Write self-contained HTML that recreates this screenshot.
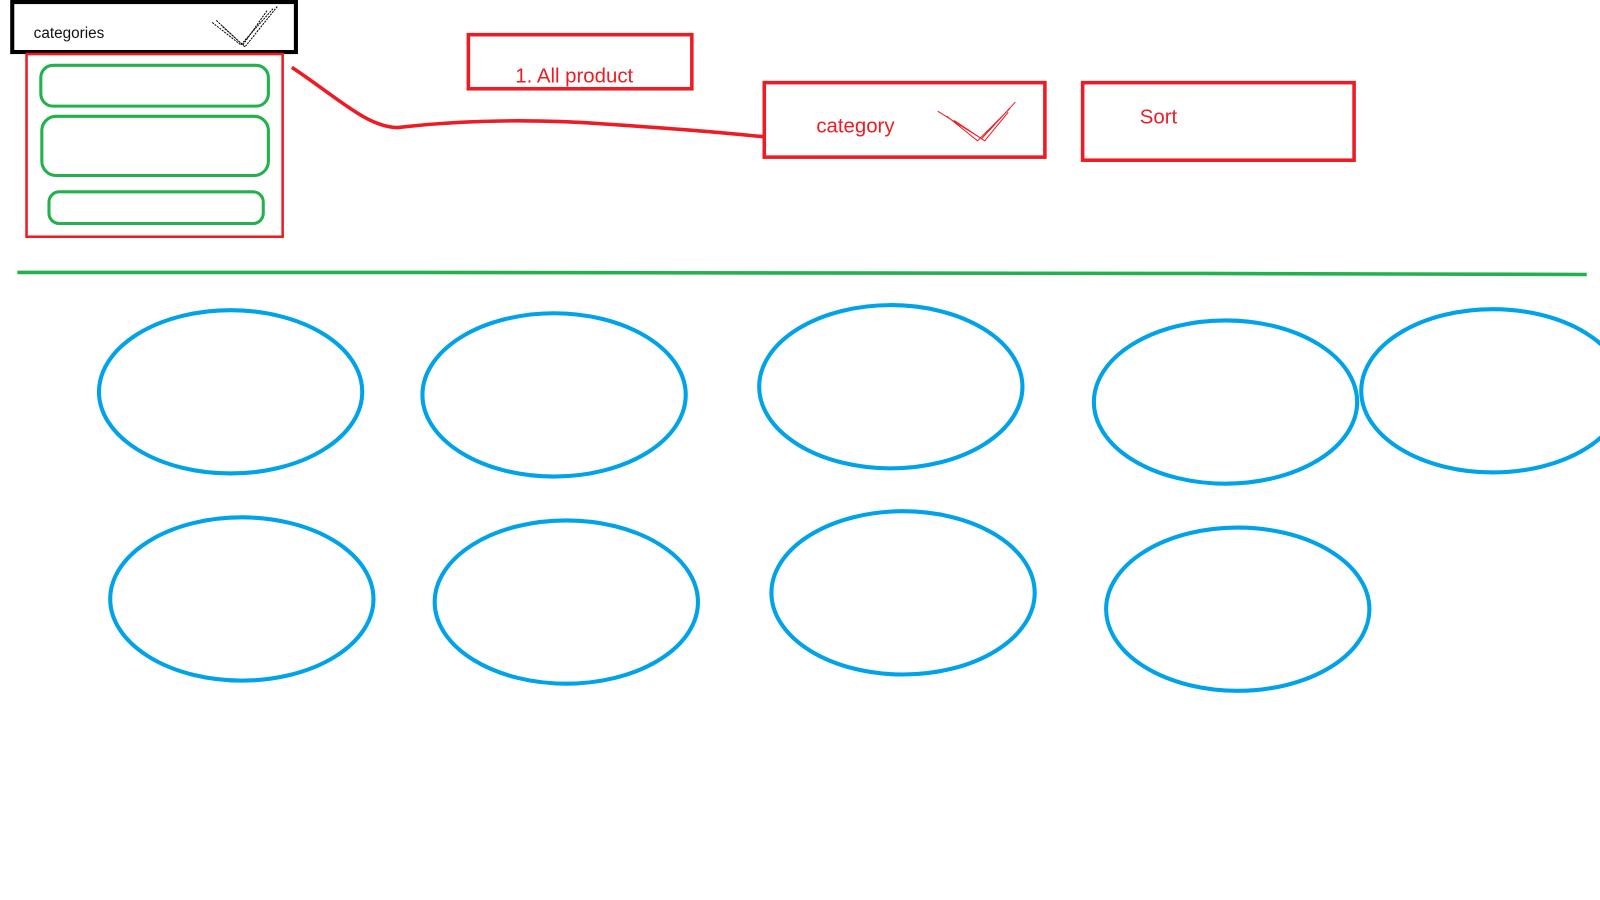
<!DOCTYPE html>
<html><head><style>html,body{margin:0;padding:0;background:#fff;width:1600px;height:900px;overflow:hidden}</style></head>
<body>
<svg width="1600" height="900" viewBox="0 0 1568 882" preserveAspectRatio="none" xmlns="http://www.w3.org/2000/svg" style="display:block">
<rect x="0" y="0" width="1568" height="882" fill="#fff"/>
<rect x="12" y="2" width="278" height="49" fill="none" stroke="#000" stroke-width="4"/>
<text x="33" y="37" font-family="Liberation Sans, sans-serif" font-size="15" fill="#111">categories</text>
<path d="M212 20 L240 46 L272 6 M218 26 L238 44 L262 10 M208 22 L236 44 L268 8" fill="none" stroke="#000" stroke-width="1" stroke-dasharray="2,1"/>
<rect x="26" y="53" width="251" height="179" fill="none" stroke="#ed1c24" stroke-width="2.5"/>
<rect x="40" y="64" width="223" height="40" rx="12" fill="none" stroke="#22b14c" stroke-width="3"/>
<rect x="41" y="114" width="222" height="58" rx="14" fill="none" stroke="#22b14c" stroke-width="3"/>
<rect x="48" y="188" width="210" height="31" rx="10" fill="none" stroke="#22b14c" stroke-width="3"/>
<path d="M286 66 C330 95 360 125 390 125 C450 118 520 116 600 122 C660 126 710 130 748 134" fill="none" stroke="#ed1c24" stroke-width="3.5"/>
<rect x="459" y="34" width="219" height="53" fill="none" stroke="#ed1c24" stroke-width="3.5"/>
<text x="505" y="81" font-family="Liberation Sans, sans-serif" font-size="20" fill="#ed1c24">1. All product</text>
<rect x="749" y="81" width="275" height="73" fill="none" stroke="#ed1c24" stroke-width="3.5"/>
<text x="800" y="130" font-family="Liberation Sans, sans-serif" font-size="20" fill="#ed1c24">category</text>
<path d="M919 109 L962 136 L995 100 M928 114 L958 138 L990 106 M935 118 L965 138 L988 110" fill="none" stroke="#ed1c24" stroke-width="1"/>
<rect x="1061" y="81" width="266" height="76" fill="none" stroke="#ed1c24" stroke-width="3.5"/>
<text x="1117" y="121" font-family="Liberation Sans, sans-serif" font-size="20" fill="#ed1c24">Sort</text>
<path d="M17 267 L400 267 L1170 268 L1555 269" fill="none" stroke="#22b14c" stroke-width="3.5"/>
<g fill="none" stroke="#00a2e8" stroke-width="4">
<ellipse cx="226" cy="384" rx="129" ry="80"/>
<ellipse cx="543" cy="387" rx="129" ry="80"/>
<ellipse cx="873" cy="379" rx="129" ry="80"/>
<ellipse cx="1201" cy="394" rx="129" ry="80"/>
<ellipse cx="1463" cy="383" rx="129" ry="80"/>
<ellipse cx="237" cy="587" rx="129" ry="80"/>
<ellipse cx="555" cy="590" rx="129" ry="80"/>
<ellipse cx="885" cy="581" rx="129" ry="80"/>
<ellipse cx="1213" cy="597" rx="129" ry="80"/>
</g>
</svg>
</body></html>
